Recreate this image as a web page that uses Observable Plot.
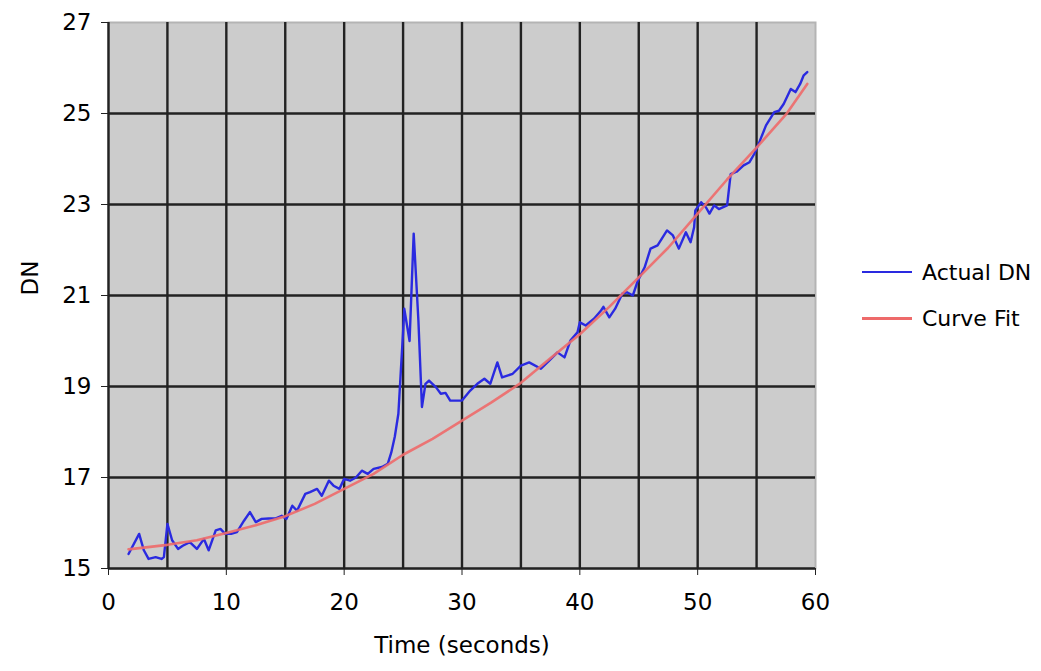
<!DOCTYPE html>
<html>
<head>
<meta charset="utf-8">
<script src="https://cdn.jsdelivr.net/npm/d3@7"></script>
<script src="https://cdn.jsdelivr.net/npm/@observablehq/plot@0.6"></script>
<style>
  html, body { margin: 0; padding: 0; background: #fff; }
  #wrap { position: relative; width: 1041px; height: 671px; font-family: "DejaVu Sans", sans-serif; }
  .leg { position: absolute; left: 862px; display: flex; align-items: center; font-size: 22px; color: #000; }
  .leg .sw { width: 50px; height: 0; margin-right: 10px; }
</style>
</head>
<body>
<div id="wrap"></div>
<script>
// Actual DN series
const actualTime = [1.7,2.6,3.0,3.4,4.0,4.5,4.7,5.0,5.4,5.9,6.3,6.9,7.5,8.1,8.5,9.1,9.5,9.9,10.4,10.9,11.5,12.0,12.5,13.0,13.6,14.2,14.7,15.1,15.6,16.0,16.7,17.1,17.7,18.1,18.7,19.1,19.6,20.0,20.5,21.0,21.5,22.0,22.5,23.2,23.7,24.0,24.3,24.6,24.8,25.0,25.1,25.55,25.9,26.3,26.6,26.9,27.2,27.8,28.2,28.6,29.0,30.0,30.7,31.3,31.9,32.4,33.0,33.4,34.3,35.0,35.7,36.7,37.4,38.1,38.7,39.2,39.8,40.0,40.5,41.2,41.8,42.0,42.5,43.0,43.6,44.0,44.5,44.9,45.5,46.0,46.6,47.4,47.9,48.4,49.0,49.4,49.7,49.8,50.3,50.7,51.0,51.4,51.8,52.5,52.8,53.3,53.9,54.4,54.8,55.2,55.8,56.5,56.9,57.3,57.9,58.3,58.7,59.0,59.3];
const actualDN = [15.32,15.76,15.40,15.21,15.25,15.21,15.25,15.98,15.62,15.43,15.50,15.58,15.43,15.65,15.40,15.84,15.87,15.76,15.76,15.80,16.05,16.24,16.02,16.09,16.10,16.10,16.16,16.09,16.38,16.27,16.64,16.68,16.75,16.60,16.93,16.82,16.75,16.97,16.93,17.00,17.15,17.08,17.19,17.23,17.30,17.55,17.90,18.40,19.30,20.20,20.71,20.00,22.36,20.45,18.55,19.06,19.13,18.98,18.84,18.86,18.69,18.69,18.91,19.06,19.17,19.06,19.53,19.20,19.28,19.46,19.53,19.39,19.57,19.75,19.64,20.01,20.19,20.41,20.34,20.49,20.67,20.75,20.52,20.71,21.04,21.07,21.00,21.31,21.62,22.03,22.10,22.43,22.32,22.03,22.39,22.17,22.50,22.87,23.05,22.94,22.80,22.98,22.90,22.98,23.67,23.72,23.86,23.93,24.11,24.35,24.74,25.03,25.06,25.21,25.54,25.47,25.65,25.84,25.91];

// Curve Fit series
const fitTime = [1.7,5,7.5,10,12.5,15,17.5,20,22.5,25,27.5,30,32.5,35,37.5,40,42.5,45,47.5,50,52.5,55,57.5,59.3];
const fitDN = [15.42,15.52,15.62,15.78,15.95,16.15,16.42,16.75,17.08,17.5,17.85,18.25,18.65,19.08,19.62,20.15,20.75,21.4,22.05,22.8,23.55,24.25,24.98,25.65];

// Axis ticks
const xTicks = [0,10,20,30,40,50,60];
const yTicks = [15,17,19,21,23,25,27];
const xGrid = [0,5,10,15,20,25,30,35,40,45,50,55];
const yGrid = [15,17,19,21,23,25];

const seriesNames = ["Actual DN", "Curve Fit"];
const seriesColors = ["#2a2ae0", "#ee6a6a"];

const actual = actualTime.map((t, i) => ({t, v: actualDN[i]}));
const fit = fitTime.map((t, i) => ({t, v: fitDN[i]}));

const chart = Plot.plot({
  width: 1041,
  height: 671,
  marginLeft: 108,
  marginRight: 226,
  marginTop: 22,
  marginBottom: 103,
  style: {fontFamily: "DejaVu Sans, sans-serif", fontSize: "23px", color: "#000", background: "#fff"},
  x: {domain: [0, 60], ticks: xTicks, tickSize: 7, tickPadding: 18, label: null},
  y: {domain: [15, 27], ticks: yTicks, tickSize: 7, tickPadding: 10, label: null},
  marks: [
    Plot.frame({fill: "#cccccc", stroke: "#b4b4b4", strokeWidth: 2}),
    Plot.ruleX(xGrid, {stroke: "#222", strokeWidth: 2.4}),
    Plot.ruleY(yGrid, {stroke: "#222", strokeWidth: 2.4}),
    Plot.axisX({ticks: xTicks, tickSize: 7, tickPadding: 18, label: null, stroke: "#222"}),
    Plot.axisY({ticks: yTicks, tickSize: 7, tickPadding: 10, label: null, stroke: "#222"}),
    Plot.line(actual, {x: "t", y: "v", stroke: seriesColors[0], strokeWidth: 2.4}),
    Plot.line(fit, {x: "t", y: "v", stroke: seriesColors[1], strokeWidth: 2.6, strokeOpacity: 0.9}),
    Plot.text(["Time (seconds)"], {frameAnchor: "bottom", dy: 84, fontSize: 23}),
    Plot.text(["DN"], {frameAnchor: "left", dx: -78, rotate: -90, fontSize: 23})
  ]
});

const wrap = document.getElementById("wrap");
wrap.appendChild(chart);

const legTops = [272, 318];
seriesNames.forEach((name, i) => {
  const d = document.createElement("div");
  d.className = "leg";
  d.style.top = (legTops[i] - 14) + "px";
  d.style.height = "28px";
  const sw = document.createElement("span");
  sw.className = "sw";
  sw.style.borderTop = (i === 0 ? 2 : 3) + "px solid " + seriesColors[i];
  const tx = document.createElement("span");
  tx.textContent = name;
  d.appendChild(sw);
  d.appendChild(tx);
  wrap.appendChild(d);
});
</script>
</body>
</html>
